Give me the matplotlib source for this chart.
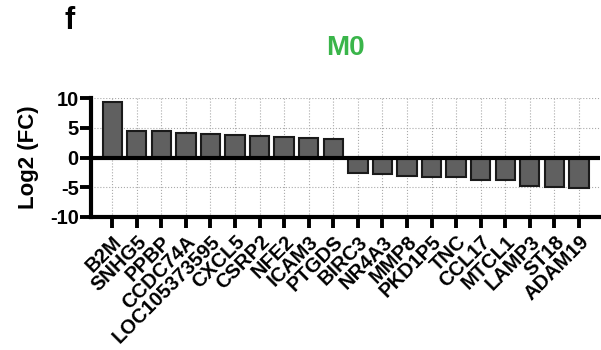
import matplotlib
matplotlib.use('Agg')
import matplotlib.pyplot as plt
import numpy as np

plt.rcParams['font.family'] = ['Liberation Sans', 'DejaVu Sans']
plt.rcParams['font.weight'] = 'bold'
plt.rcParams['axes.unicode_minus'] = False

genes = ['B2M', 'SNHG5', 'PPBP', 'CCDC74A', 'LOC105373595', 'CXCL5', 'CSRP2',
         'NFE2', 'ICAM3', 'PTGDS', 'BIRC3', 'NR4A3', 'MMP8', 'PKD1P5', 'TNC',
         'CCL17', 'MTCL1', 'LAMP3', 'ST18', 'ADAM19']
log2fc = [9.4, 4.5, 4.4, 4.2, 4.0, 3.8, 3.6, 3.45, 3.2, 3.1,
          -2.6, -2.7, -3.1, -3.2, -3.2, -3.7, -3.8, -4.8, -5.0, -5.05]
yticks = [-10, -5, 0, 5, 10]

fig = plt.figure(figsize=(6.01, 3.5), dpi=100)
ax = fig.add_axes([0.152, 0.38, 0.846, 0.34])

x = np.arange(len(genes))
ax.bar(x, log2fc, width=0.79, color='#606060', edgecolor='#1a1a1a',
       linewidth=1.5, zorder=3)
ax.axhline(0, color='black', linewidth=3, zorder=4)

ax.set_xlim(-0.85, len(genes) - 0.15)
ax.set_ylim(-10, 10)
ax.set_yticks(yticks)
ax.set_xticks(x)
ax.set_xticklabels(genes, rotation=45, ha='right', rotation_mode='anchor',
                   fontsize=14.5, fontweight='bold')
ax.tick_params(axis='y', labelsize=14.5, width=2.8, length=8, pad=1)
ax.tick_params(axis='x', width=2.8, length=8, pad=3)

ax.grid(True, color='#aaaaaa', linestyle=':', linewidth=0.8, zorder=0)
for s in ['top', 'right']:
    ax.spines[s].set_visible(False)
for s in ['left', 'bottom']:
    ax.spines[s].set_linewidth(3)

ax.set_ylabel('Log2 (FC)', fontsize=16, fontweight='bold', labelpad=8)
fig.text(0.575, 0.863, 'M0', color='#3ab54a', fontsize=20,
         fontweight='bold', ha='center', va='center')
fig.text(0.116, 0.94, 'f', color='black', fontsize=22,
         fontweight='bold', ha='center', va='center')

fig.savefig('out.png', dpi=100)
